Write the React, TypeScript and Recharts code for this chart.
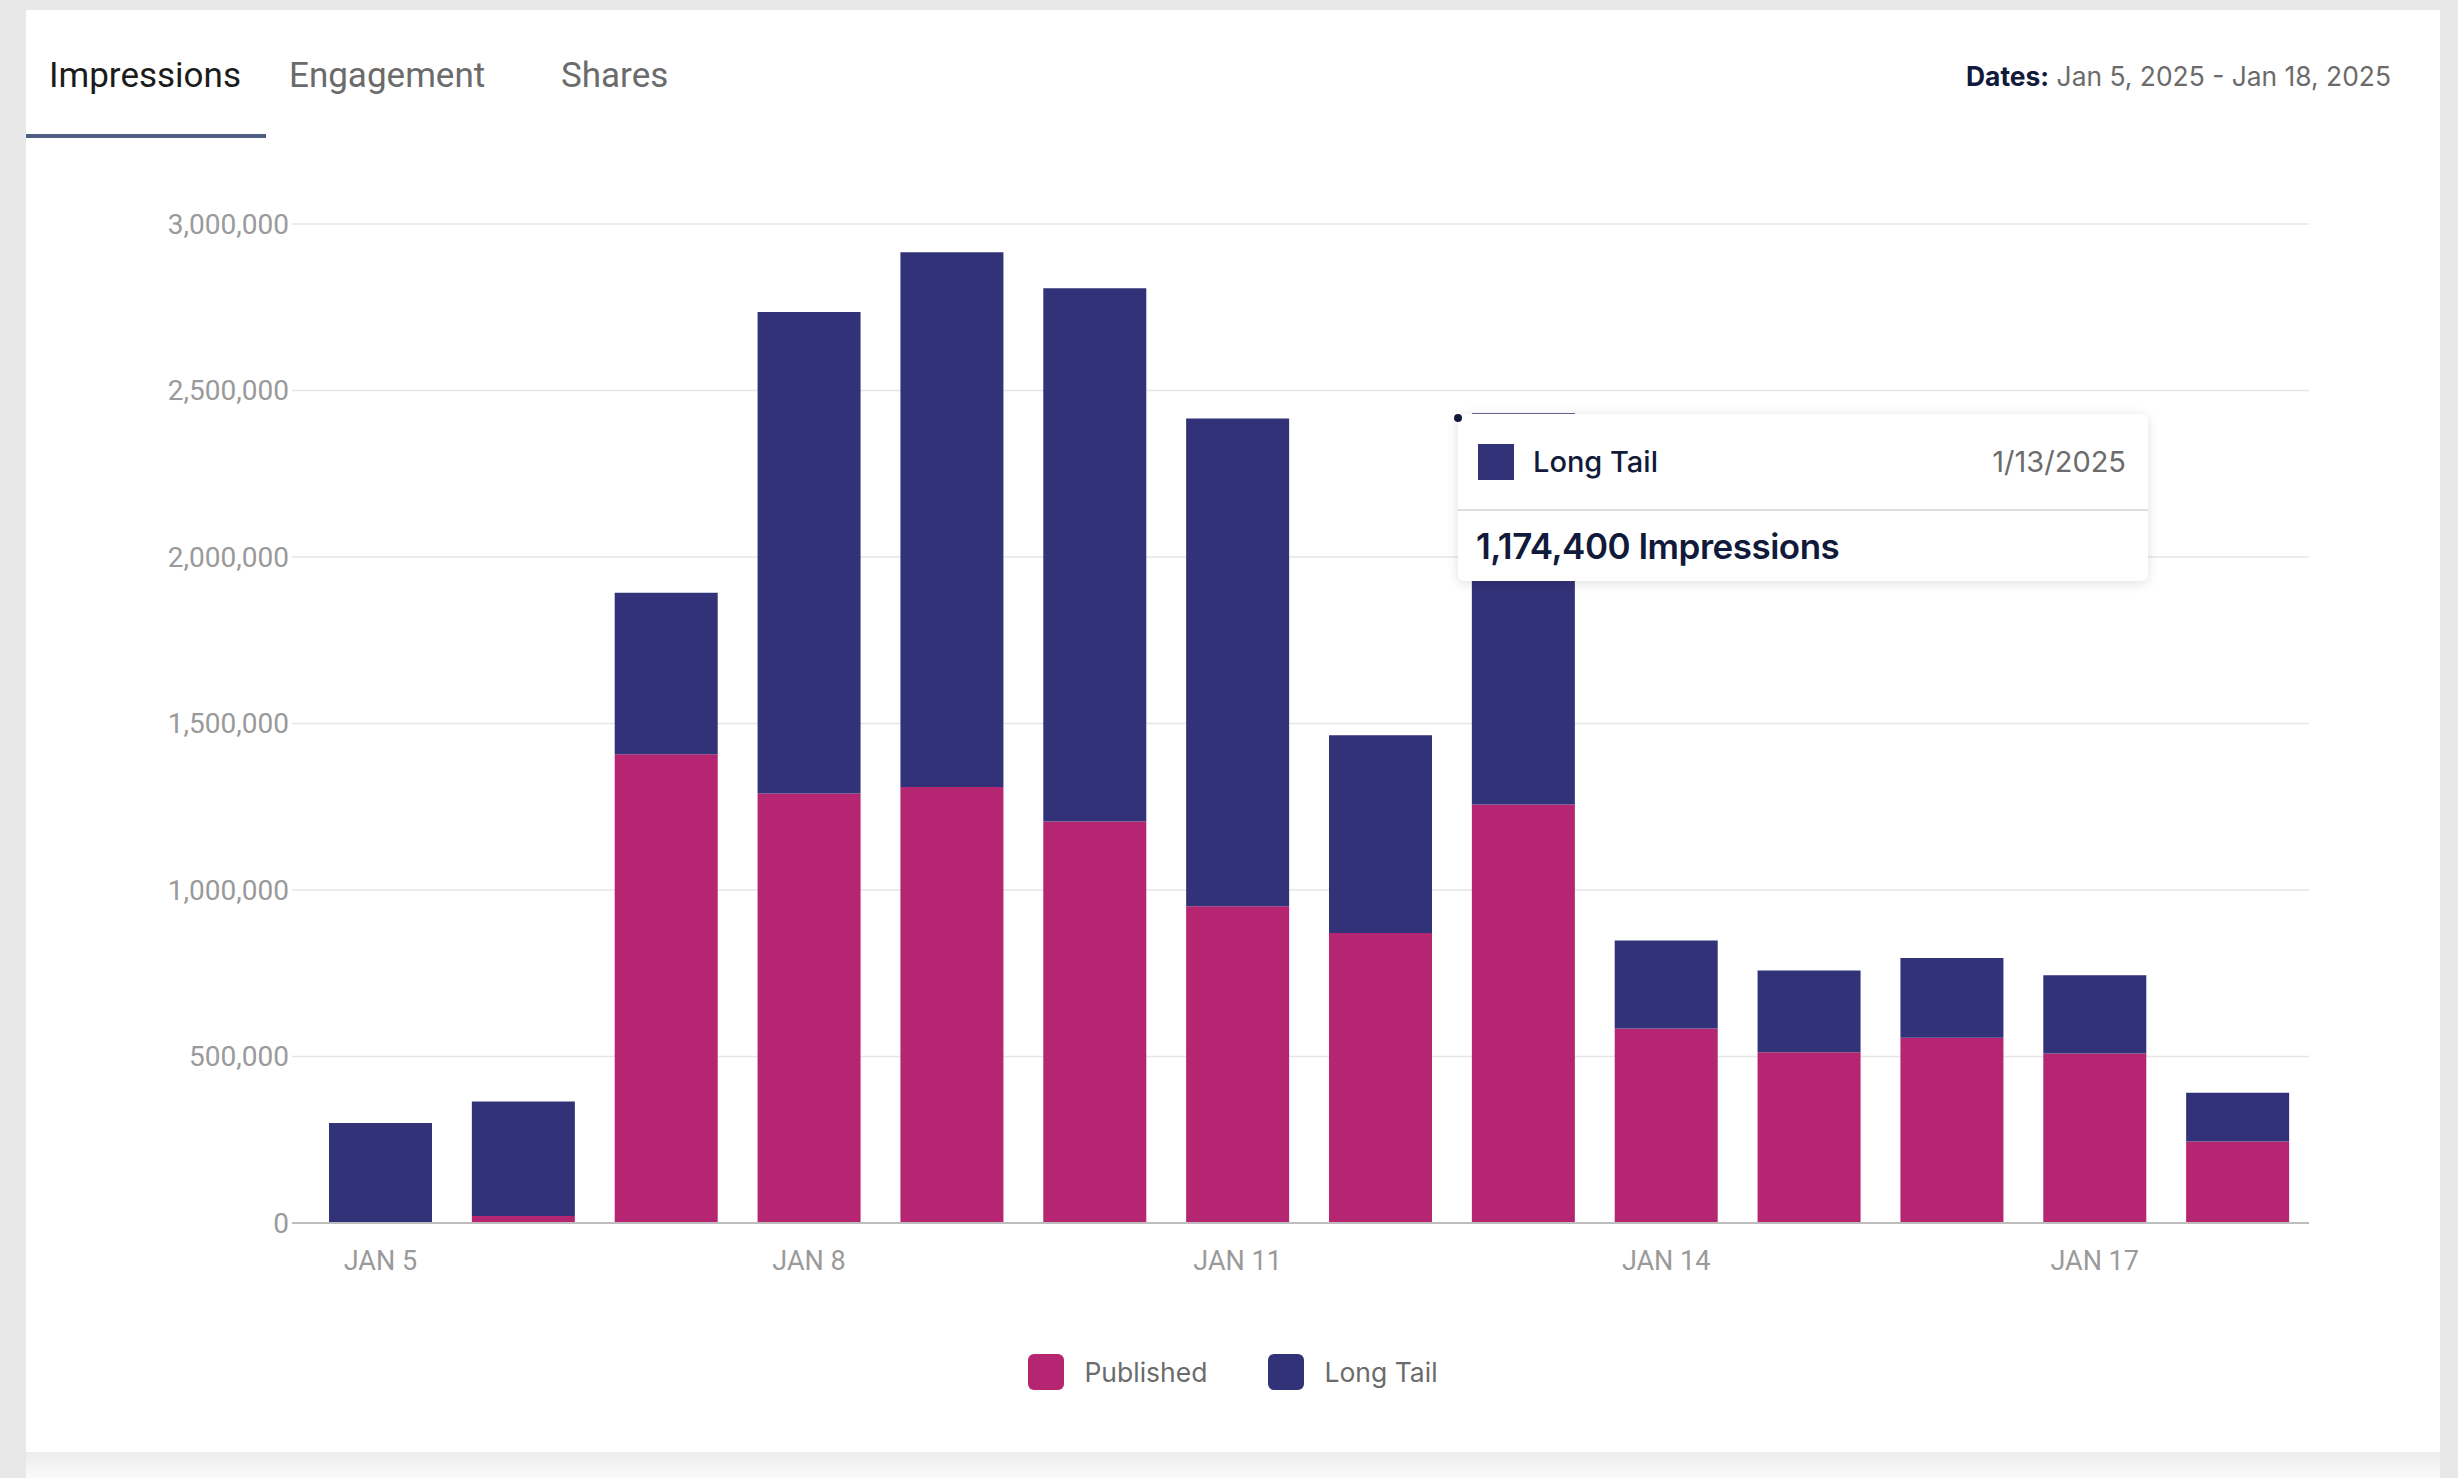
import React from "react"
import { BarChart, Bar, XAxis, YAxis, CartesianGrid, Tooltip, Legend } from "recharts"

// data (Jan 5 - Jan 18, 2025)
const dates = [
  "1/5/2025", "1/6/2025", "1/7/2025", "1/8/2025", "1/9/2025", "1/10/2025", "1/11/2025",
  "1/12/2025", "1/13/2025", "1/14/2025", "1/15/2025", "1/16/2025", "1/17/2025", "1/18/2025",
]
const published = [
  0, 21000, 1408000, 1290000, 1309000, 1206000, 951000,
  871000, 1257000, 584000, 513000, 556000, 509000, 245000,
]
const longTail = [
  300000, 344000, 485000, 1446000, 1606000, 1601000, 1465000,
  594000, 1174400, 264000, 245000, 240000, 235000, 146000,
]
const yTicks = [0, 500000, 1000000, 1500000, 2000000, 2500000, 3000000]
const tabs = ["Impressions", "Engagement", "Shares"]

const PINK = "#b52571"
const NAVY = "#323278"
const MONTHS = ["JAN", "FEB", "MAR", "APR", "MAY", "JUN", "JUL", "AUG", "SEP", "OCT", "NOV", "DEC"]

const chartData = dates.map((d, i) => ({
  date: d,
  published: published[i],
  longTail: longTail[i],
}))

const tickLabel = (d: string) => {
  const [m, day] = d.split("/")
  return `${MONTHS[Number(m) - 1]} ${day}`
}

const fmt = (n: number) => n.toLocaleString("en-US")

const TooltipBox = ({ payload, label }: any) => {
  if (!payload || !payload.length) return null
  const item = payload.find((p: any) => p.dataKey === "longTail") || payload[0]
  return (
    <div style={{ position: "relative", fontFamily: "Inter, sans-serif" }}>
      <div style={{ position: "absolute", left: 0, top: 0, width: 8, height: 8, borderRadius: 4, background: "#111a3a" }} />
      <div
        style={{
          marginLeft: 4,
          marginTop: 5,
          width: 690,
          background: "#fff",
          borderRadius: 6,
          boxShadow: "0 2px 12px rgba(0,0,0,0.13)",
        }}
      >
        <div style={{ display: "flex", alignItems: "center", height: 95, padding: "0 22px 0 20px", borderBottom: "2px solid #dedede" }}>
          <div style={{ width: 36, height: 36, background: NAVY }} />
          <span style={{ marginLeft: 19, fontSize: 29, fontWeight: 500, color: "#111a3a" }}>{item.name}</span>
          <span style={{ marginLeft: "auto", fontSize: 29, color: "#6b6b6b" }}>{label}</span>
        </div>
        <div style={{ height: 70, display: "flex", alignItems: "center", paddingLeft: 18, fontSize: 35, fontWeight: 600, color: "#111a3a", letterSpacing: -0.5 }}>
          {fmt(item.value)} Impressions
        </div>
      </div>
    </div>
  )
}

const LegendBox = () => (
  <div style={{ display: "flex", justifyContent: "center", alignItems: "center", fontFamily: "Inter, sans-serif", fontSize: 26.5, color: "#6b6b6b" }}>
    {[
      { name: "Published", color: PINK },
      { name: "Long Tail", color: NAVY },
    ].map((s, i) => (
      <div key={s.name} style={{ display: "flex", alignItems: "center", marginLeft: i ? 61 : 0 }}>
        <div style={{ width: 36, height: 36, borderRadius: 6, background: s.color }} />
        <span style={{ marginLeft: 20 }}>{s.name}</span>
      </div>
    ))}
  </div>
)

export default function App() {
  return (
    <div style={{ position: "absolute", left: 0, top: 0, width: 2458, height: 1478, background: "#e8e8e8", overflow: "hidden" }}>
      {/* bottom strip below card */}
      <div style={{ position: "absolute", left: 26, top: 1452, width: 2414, height: 26, background: "linear-gradient(#ececec, #fafafa)" }} />
      {/* card */}
      <div style={{ position: "absolute", left: 26, top: 10, width: 2414, height: 1442, background: "#fff" }}>
        <div style={{ position: "absolute", left: 0, top: 0, display: "flex", fontFamily: "Roboto, sans-serif", fontSize: 35 }}>
          {tabs.map((t, i) => (
            <div
              key={t}
              style={{
                position: "absolute",
                left: [23, 263, 535][i],
                top: 45,
                whiteSpace: "nowrap",
                color: i === 0 ? "#1b1b1b" : "#6b6b6b",
              }}
            >
              {t}
            </div>
          ))}
          <div style={{ position: "absolute", left: 0, top: 124, width: 240, height: 4, background: "#505c84" }} />
        </div>
        <div
          style={{
            position: "absolute",
            right: 49,
            top: 50,
            fontFamily: "Inter, sans-serif",
            fontSize: 26.4,
            whiteSpace: "nowrap",
            color: "#6b6b6b",
          }}
        >
          <span style={{ fontWeight: 700, color: "#121a3b" }}>Dates:</span> Jan 5, 2025 - Jan 18, 2025
        </div>
      </div>

      <div style={{ position: "absolute", left: 0, top: 0 }}>
        <BarChart
          width={2458}
          height={1478}
          data={chartData}
          margin={{ top: 224, right: 149, bottom: 225, left: 0 }}
          barCategoryGap="14%"
        >
          <CartesianGrid vertical={false} stroke="#e6e6e6" strokeWidth={1.5} />
          <XAxis
            dataKey="date"
            tickFormatter={tickLabel}
            interval={2}
            padding={{ left: 17, right: 0 }}
            axisLine={{ stroke: "#bdbdbd", strokeWidth: 2 }}
            tickLine={false}
            tickSize={0}
            tickMargin={28}
            tick={{ fontFamily: "Roboto, sans-serif", fontSize: 27, fill: "#9a9a9a" }}
          />
          <YAxis
            width={292}
            domain={[0, 3000000]}
            ticks={yTicks}
            tickFormatter={fmt}
            axisLine={false}
            tickLine={false}
            tickSize={0}
            tickMargin={3}
            tick={{ fontFamily: "Roboto, sans-serif", fontSize: 28, fill: "#9a9a9a" }}
          />
          <Tooltip
            content={<TooltipBox />}
            defaultIndex={8}
            active
            cursor={false}
            position={{ x: 1454, y: 409 }}
            isAnimationActive={false}
            wrapperStyle={{ outline: "none" }}
          />
          <Legend
            layout="horizontal"
            verticalAlign="middle"
            align="center"
            content={<LegendBox />}
            wrapperStyle={{ top: 1354, left: 0, width: 2466 }}
          />
          <Bar dataKey="published" name="Published" stackId="a" fill={PINK} isAnimationActive={false} />
          <Bar dataKey="longTail" name="Long Tail" stackId="a" fill={NAVY} isAnimationActive={false} />
        </BarChart>
      </div>
    </div>
  )
}
